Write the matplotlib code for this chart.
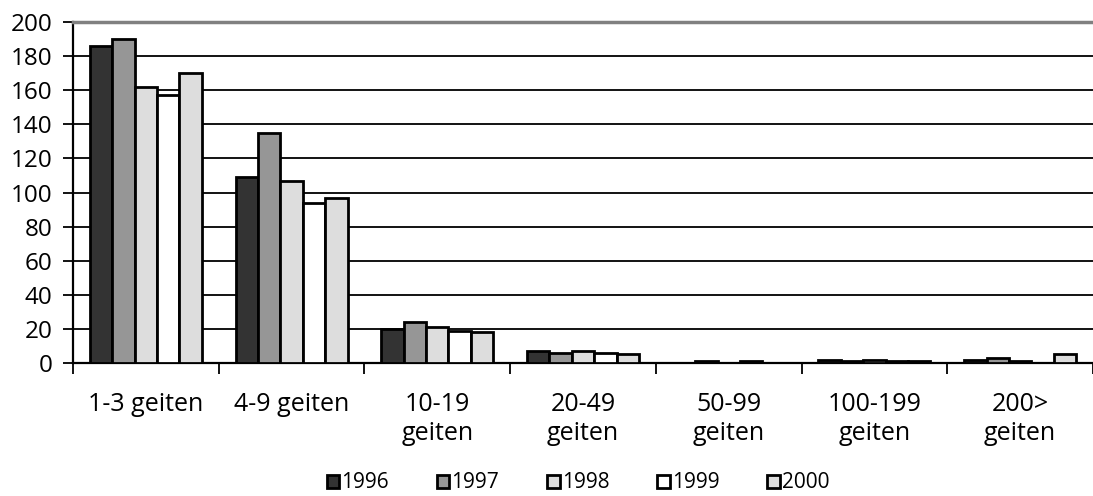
import matplotlib.pyplot as plt
import numpy as np

categories = ['1-3 geiten', '4-9 geiten', '10-19\ngeiten', '20-49\ngeiten',
              '50-99\ngeiten', '100-199\ngeiten', '200>\ngeiten']
years = ['1996', '1997', '1998', '1999', '2000']
v1996 = [186, 109, 20, 7, 0, 2, 2]
v1997 = [190, 135, 24, 6, 1, 1, 3]
v1998 = [162, 107, 21, 7, 0, 2, 1]
v1999 = [157, 94, 19, 6, 1, 1, 0]
v2000 = [170, 97, 18, 5, 0, 1, 5]
series = [v1996, v1997, v1998, v1999, v2000]
colors = ['#333333', '#969696', '#dddddd', '#ffffff', '#dddddd']

plt.rcParams['font.family'] = ['Open Sans', 'DejaVu Sans']

fig = plt.figure(figsize=(10.93, 4.96), dpi=100)
ax = fig.add_axes([73 / 1093, 1 - 363 / 496, 1 - 73 / 1093, (363 - 22) / 496])

n = len(years)
w = 1 / 6.5
x = np.arange(len(categories))
for i, (vals, c, yr) in enumerate(zip(series, colors, years)):
    ax.bar(x + (i - (n - 1) / 2) * w, vals, width=w, color=c,
           edgecolor='black', linewidth=2.0, label=yr, zorder=3)

ax.set_xlim(-0.5, len(categories) - 0.5)
ax.set_ylim(0, 200)
ax.set_yticks(range(0, 201, 20))
ax.yaxis.grid(True, color='black', linewidth=1.3, zorder=0)
ax.tick_params(axis='y', labelsize=17.5, length=7, width=1.3, direction='out', pad=8)

ax.set_xticks(x)
ax.set_xticklabels(categories, fontsize=18, linespacing=1.2)
ax.tick_params(axis='x', which='major', length=0, pad=21)
ax.set_xticks(np.arange(-0.5, len(categories), 1), minor=True)
ax.tick_params(axis='x', which='minor', length=8, width=1.3, direction='out')

ax.spines['right'].set_visible(False)
ax.spines['top'].set_color('#808080')
ax.spines['top'].set_linewidth(2.5)
ax.spines['left'].set_linewidth(1.6)
ax.spines['bottom'].set_linewidth(1.6)

leg = fig.legend(loc='center', bbox_to_anchor=(578 / 1093, 1 - 483 / 496), ncol=5,
                 frameon=False, fontsize=15, handlelength=0.6, handleheight=0.6,
                 handletextpad=0.1, columnspacing=2.3, borderpad=0)
for h in leg.legend_handles:
    h.set_linewidth(2.0)

fig.savefig('out.png', dpi=100)
